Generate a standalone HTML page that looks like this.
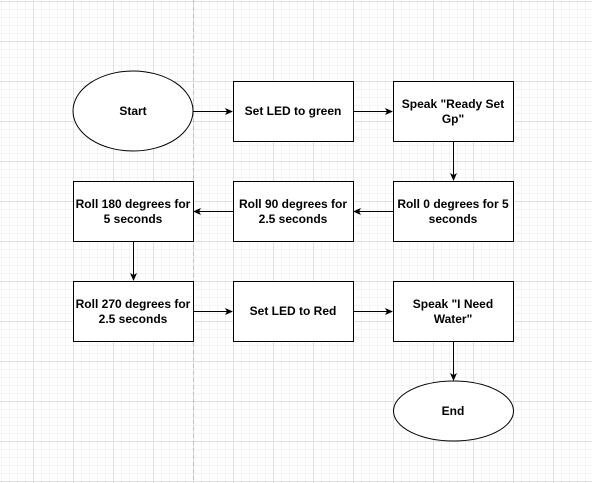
<!DOCTYPE html>
<html><head><style>
html,body{margin:0;padding:0;}
body{width:592px;height:483px;overflow:hidden;background:#fff;position:relative;
background-image:
linear-gradient(to right,#e0e0e0 1px,transparent 1px),
linear-gradient(to bottom,#e0e0e0 1px,transparent 1px),
linear-gradient(to right,#f3f3f3 1px,transparent 1px),
linear-gradient(to bottom,#f3f3f3 1px,transparent 1px);
background-size:40px 40px,40px 40px,8px 8px,8px 8px;
background-position:33px 1px,33px 1px,1px 1px,1px 1px;}
svg{position:absolute;left:0;top:0}
text{font-family:"Liberation Sans",Arial,sans-serif;font-size:12px;font-weight:bold;text-anchor:middle;fill:#000}
</style></head><body>
<svg width="592" height="483" viewBox="0 0 592 483">
<defs><marker id="a" markerWidth="8" markerHeight="8" refX="7" refY="4" orient="auto" markerUnits="userSpaceOnUse"><path d="M0,0.5 L8,4 L0,7.5 L2,4 Z" fill="#000"/></marker></defs>
<line x1="193.5" y1="0" x2="193.5" y2="483" stroke="#c0c0c0" stroke-dasharray="4,3"/>
<g fill="#fff" stroke="#000" stroke-width="1">
<ellipse cx="133" cy="111" rx="60" ry="40"/>
<rect x="233.5" y="81.5" width="120" height="60"/>
<rect x="393.5" y="81.5" width="120" height="60"/>
<rect x="73.5" y="181.5" width="120" height="60"/>
<rect x="233.5" y="181.5" width="120" height="60"/>
<rect x="393.5" y="181.5" width="120" height="60"/>
<rect x="73.5" y="281.5" width="120" height="60"/>
<rect x="233.5" y="281.5" width="120" height="60"/>
<rect x="393.5" y="281.5" width="120" height="60"/>
<ellipse cx="453.5" cy="411" rx="60" ry="30"/>
</g>
<g stroke="#000" marker-end="url(#a)">
<line x1="193" y1="111.5" x2="232" y2="111.5"/>
<line x1="353" y1="111.5" x2="392" y2="111.5"/>
<line x1="453.5" y1="141" x2="453.5" y2="180"/>
<line x1="393" y1="211.5" x2="354" y2="211.5"/>
<line x1="233" y1="211.5" x2="194" y2="211.5"/>
<line x1="133.5" y1="241" x2="133.5" y2="280"/>
<line x1="193" y1="311.5" x2="232" y2="311.5"/>
<line x1="353" y1="311.5" x2="392" y2="311.5"/>
<line x1="453.5" y1="341" x2="453.5" y2="380"/>
</g>
<text x="133" y="115">Start</text>
<text x="293" y="115">Set LED to green</text>
<text x="453" y="108">Speak "Ready Set</text><text x="453" y="123">Gp"</text>
<text x="133" y="208">Roll 180 degrees for</text><text x="133" y="223">5 seconds</text>
<text x="293" y="208">Roll 90 degrees for</text><text x="293" y="223">2.5 seconds</text>
<text x="453" y="208">Roll 0 degrees for 5</text><text x="453" y="223">seconds</text>
<text x="133" y="308">Roll 270 degrees for</text><text x="133" y="323">2.5 seconds</text>
<text x="293" y="315">Set LED to Red</text>
<text x="453" y="308">Speak "I Need</text><text x="453" y="323">Water"</text>
<text x="453" y="415">End</text>
</svg>
</body></html>
